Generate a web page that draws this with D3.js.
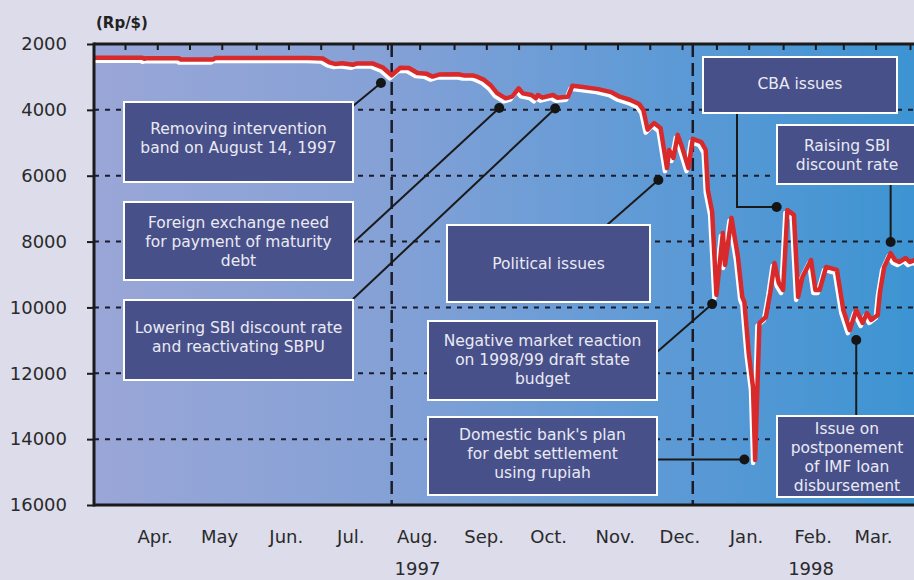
<!DOCTYPE html>
<html>
<head>
<meta charset="utf-8">
<script src="https://cdn.jsdelivr.net/npm/d3@7"></script>
<style>
  html, body { margin: 0; padding: 0; background: #dcdcea; }
  svg { display: block; }
  text { font-family: "DejaVu Sans", "Noto Sans", sans-serif; }
</style>
</head>
<body>
<svg id="chart" width="914" height="580"></svg>
<script>
// Rupiah / US dollar exchange rate, March 1997 – March 1998
const rateDates = [
  "1997-03-17","1997-04-09","1997-04-10","1997-04-11","1997-04-26","1997-04-27",
  "1997-05-12","1997-05-13","1997-06-25","1997-07-02","1997-07-05","1997-07-08",
  "1997-07-11","1997-07-16","1997-07-18","1997-07-25","1997-07-30","1997-08-03",
  "1997-08-07","1997-08-11","1997-08-15","1997-08-19","1997-08-22","1997-08-25",
  "1997-09-03","1997-09-06","1997-09-10","1997-09-12","1997-09-15","1997-09-18",
  "1997-09-21","1997-09-25","1997-09-28","1997-10-01","1997-10-03","1997-10-07",
  "1997-10-09","1997-10-10","1997-10-12","1997-10-17","1997-10-19","1997-10-24",
  "1997-10-26","1997-10-30","1997-11-07","1997-11-13","1997-11-17","1997-11-22",
  "1997-11-26","1997-11-28","1997-11-30","1997-12-03","1997-12-06","1997-12-09",
  "1997-12-10","1997-12-12","1997-12-14","1997-12-16","1997-12-19","1997-12-21",
  "1997-12-25","1997-12-27","1997-12-28","1997-12-30","1998-01-01","1998-01-04",
  "1998-01-05","1998-01-08","1998-01-11","1998-01-13","1998-01-14","1998-01-16",
  "1998-01-18","1998-01-19","1998-01-21","1998-01-24","1998-01-26","1998-01-28",
  "1998-01-30","1998-02-01","1998-02-03","1998-02-06","1998-02-08","1998-02-10",
  "1998-02-14","1998-02-16","1998-02-18","1998-02-21","1998-02-26","1998-03-01",
  "1998-03-04","1998-03-07","1998-03-10","1998-03-12","1998-03-14","1998-03-17",
  "1998-03-18","1998-03-20","1998-03-23","1998-03-25","1998-03-27","1998-03-30",
  "1998-04-01","1998-04-03","1998-04-06"
];
const rateValues = [
  2420, 2420, 2450, 2430, 2430, 2470,
  2470, 2425, 2425, 2440, 2560, 2610,
  2585, 2630, 2590, 2590, 2720, 2950,
  2720, 2730, 2880, 2900, 2990, 2930,
  2920, 2960, 2960, 3000, 3090, 3250,
  3490, 3650, 3600, 3345, 3500, 3550,
  3650, 3550, 3630, 3550, 3630, 3600,
  3270, 3300, 3370, 3460, 3600, 3700,
  3820, 4000, 4600, 4400, 4550, 5770,
  5220, 5460, 4760, 5130, 5770, 4880,
  4980, 5220, 6430, 7100, 9620, 7740,
  8710, 7280, 8470, 9680, 9840, 11380,
  12420, 14630, 10470, 10290, 9560, 8650,
  9260, 9470, 7040, 7190, 9680, 9080,
  8560, 9470, 9470, 8770, 8860, 10080,
  10690, 10080, 10470, 10170, 10380, 10230,
  9560, 8770, 8350, 8560, 8620, 8500,
  8620, 8560, 8600
];

const yTickValues = [2000, 4000, 6000, 8000, 10000, 12000, 14000, 16000];
const monthNames = ["Apr.","May","Jun.","Jul.","Aug.","Sep.","Oct.","Nov.","Dec.","Jan.","Feb.","Mar."];
const monthLabelDates = ["1997-04-15","1997-05-15","1997-06-15","1997-07-15","1997-08-15","1997-09-15",
                         "1997-10-15","1997-11-15","1997-12-15","1998-01-15","1998-02-15","1998-03-15"];
const yearNames = ["1997", "1998"];
const yearLabelDates = ["1997-08-15", "1998-02-14"];
const dividerDates = ["1997-08-03", "1997-12-21"];
const unitLabel = "(Rp/$)";

// Events and the point on the curve each one refers to
const eventTexts = [
  ["Removing intervention", "band on August 14, 1997"],
  ["Foreign exchange need", "for payment of maturity", "debt"],
  ["Lowering SBI discount rate", "and reactivating SBPU"],
  ["Political issues"],
  ["Negative market reaction", "on 1998/99 draft state", "budget"],
  ["Domestic bank's plan", "for debt settlement", "using rupiah"],
  ["CBA issues"],
  ["Raising SBI", "discount rate"],
  ["Issue on", "postponement", "of IMF loan", "disbursement"]
];
const eventDates = ["1997-07-29","1997-09-22","1997-10-18","1997-12-05","1997-12-30",
                    "1998-01-14","1998-01-29","1998-03-23","1998-03-07"];
const eventRates = [3184, 3944, 3959, 6130, 9896, 14618, 6950, 8013, 10989];

// Callout box placement (pixels) and how each leader line leaves its box
const calloutLayout = [
  { x: 124, y: 102, w: 229, h: 80, kind: "line", fx: 353, fy: 106, dy: -4 },
  { x: 124, y: 202, w: 229, h: 78, kind: "line", fx: 353, fy: 243, dy: 0 },
  { x: 124, y: 300, w: 229, h: 80, kind: "line", fx: 353, fy: 299, dy: -3 },
  { x: 447, y: 225, w: 203, h: 77, kind: "line", fx: 607, fy: 225, dy: 0 },
  { x: 428, y: 321, w: 229, h: 79, kind: "h", fx: 657, fy: 352, kind2: "line", dy: -1 },
  { x: 428, y: 417, w: 229, h: 78, kind: "h", dy: -3 },
  { x: 703, y: 57,  w: 194, h: 56, kind: "elbow", fx: 737, dy: -2 },
  { x: 777, y: 125, w: 140, h: 59, kind: "vdown", dy: 0 },
  { x: 777, y: 416, w: 140, h: 81, kind: "vup", dy: 0 }
];
calloutLayout[4].kind = "line";

const parse = d3.timeParse("%Y-%m-%d");
const W = 914, H = 580;
const plot = { left: 94, top: 44, bottom: 505, right: 940 };

const svg = d3.select("#chart");

const x = d3.scaleTime()
  .domain([parse("1997-04-01"), parse("1998-04-01")])
  .range([125, 910]);
const y = d3.scaleLinear()
  .domain([2000, 16000])
  .range([plot.top, plot.bottom]);

// page background
svg.append("rect").attr("width", W).attr("height", H).attr("fill", "#dcdcea");

const defs = svg.append("defs");
const grad = defs.append("linearGradient").attr("id", "plotBg")
  .attr("gradientUnits", "userSpaceOnUse")
  .attr("x1", plot.left).attr("x2", 914).attr("y1", 0).attr("y2", 0);
[["0%", "#9aa6d7"], ["35%", "#85a1d6"], ["65%", "#629bd6"], ["100%", "#3d94d2"]]
  .forEach(([o, c]) => grad.append("stop").attr("offset", o).attr("stop-color", c));

defs.append("clipPath").attr("id", "plotClip")
  .append("rect")
  .attr("x", plot.left).attr("y", plot.top)
  .attr("width", plot.right - plot.left).attr("height", plot.bottom - plot.top);

svg.append("rect")
  .attr("x", plot.left).attr("y", plot.top)
  .attr("width", plot.right - plot.left).attr("height", plot.bottom - plot.top)
  .attr("fill", "url(#plotBg)");

// horizontal dashed gridlines
svg.append("g").selectAll("line")
  .data(yTickValues.filter(v => v > 2000 && v < 16000))
  .join("line")
  .attr("x1", plot.left).attr("x2", plot.right)
  .attr("y1", d => y(d)).attr("y2", d => y(d))
  .attr("stroke", "#1b1b2a").attr("stroke-width", 2)
  .attr("stroke-dasharray", "5,6");

// vertical period dividers
svg.append("g").selectAll("line")
  .data(dividerDates)
  .join("line")
  .attr("x1", d => x(parse(d))).attr("x2", d => x(parse(d)))
  .attr("y1", plot.top).attr("y2", plot.bottom)
  .attr("stroke", "#1b1b2a").attr("stroke-width", 2.5)
  .attr("stroke-dasharray", "13,6");

// exchange-rate line with a white drop shadow
const series = rateDates.map((d, i) => ({ date: parse(d), value: rateValues[i] }));
const line = d3.line().x(d => x(d.date)).y(d => y(d.value));
const lineG = svg.append("g").attr("clip-path", "url(#plotClip)");
lineG.append("path").datum(series)
  .attr("d", line)
  .attr("transform", "translate(-2,3)")
  .attr("fill", "none").attr("stroke", "#ffffff").attr("stroke-width", 4.5)
  .attr("stroke-linejoin", "round");
lineG.append("path").datum(series)
  .attr("d", line)
  .attr("fill", "none").attr("stroke", "#d8292b").attr("stroke-width", 4.5)
  .attr("stroke-linejoin", "round");

// frame: top, left, bottom
const frame = svg.append("g").attr("stroke", "#1a1a1a").attr("stroke-width", 3);
frame.append("line").attr("x1", plot.left).attr("x2", 914).attr("y1", plot.top).attr("y2", plot.top);
frame.append("line").attr("x1", plot.left).attr("x2", 914).attr("y1", plot.bottom).attr("y2", plot.bottom);
frame.append("line").attr("x1", plot.left).attr("x2", plot.left).attr("y1", plot.top - 1.5).attr("y2", plot.bottom + 1.5);

// y axis
const yAxis = d3.axisLeft(y).tickValues(yTickValues).tickSize(7).tickPadding(20).tickFormat(d3.format("d"));
const yG = svg.append("g").attr("transform", `translate(${plot.left},0)`).call(yAxis);
yG.select(".domain").remove();
yG.selectAll(".tick line").attr("stroke", "#1a1a1a").attr("stroke-width", 2);
yG.selectAll(".tick text")
  .attr("font-size", 18).attr("fill", "#2a2a2a")
  .attr("font-family", "'DejaVu Sans', sans-serif");

// half-month tick marks along the top edge
const topTicks = [];
d3.timeMonth.range(parse("1997-04-01"), parse("1998-04-02")).forEach(m => {
  topTicks.push(m);
  topTicks.push(d3.timeDay.offset(m, 15));
});
const xTop = d3.axisBottom(x).tickValues(topTicks.filter(t => x(t) > plot.left + 4 && x(t) < 914))
  .tickSize(6).tickFormat("");
const xTopG = svg.append("g").attr("transform", `translate(0,${plot.top})`).call(xTop);
xTopG.select(".domain").remove();
xTopG.selectAll(".tick line").attr("stroke", "#1a1a1a").attr("stroke-width", 2);

// month and year labels
svg.append("g").selectAll("text")
  .data(monthNames)
  .join("text")
  .attr("x", (d, i) => x(parse(monthLabelDates[i])))
  .attr("y", 543)
  .attr("text-anchor", "middle")
  .attr("font-size", 18).attr("fill", "#2a2a2a")
  .text(d => d);
svg.append("g").selectAll("text")
  .data(yearNames)
  .join("text")
  .attr("x", (d, i) => x(parse(yearLabelDates[i])))
  .attr("y", 575)
  .attr("text-anchor", "middle")
  .attr("font-size", 18).attr("fill", "#2a2a2a")
  .text(d => d);

svg.append("text")
  .attr("x", 96).attr("y", 28)
  .attr("font-size", 15).attr("font-weight", "bold").attr("fill", "#222")
  .text(unitLabel);

// leader lines
const leaders = svg.append("g").attr("stroke", "#1a1a1a").attr("stroke-width", 2).attr("fill", "none");
calloutLayout.forEach((b, i) => {
  const px = x(parse(eventDates[i])), py = y(eventRates[i]);
  let pts;
  if (b.kind === "line") pts = [[b.fx, b.fy], [px, py]];
  else if (b.kind === "h") pts = [[b.x + b.w, py], [px, py]];
  else if (b.kind === "elbow") pts = [[b.fx, b.y + b.h], [b.fx, py], [px, py]];
  else if (b.kind === "vdown") pts = [[px, b.y + b.h], [px, py]];
  else pts = [[px, b.y], [px, py]];
  leaders.append("path").attr("d", d3.line()(pts));
});

// callout boxes
const boxG = svg.append("g");
calloutLayout.forEach((b, i) => {
  const g = boxG.append("g");
  g.append("rect")
    .attr("x", b.x).attr("y", b.y).attr("width", b.w).attr("height", b.h)
    .attr("fill", "#48508a").attr("stroke", "#ffffff").attr("stroke-width", 2);
  const lines = eventTexts[i];
  const lh = 19;
  const cy = b.y + b.h / 2 + b.dy;
  const first = cy - (lines.length - 1) * lh / 2;
  g.selectAll("text").data(lines).join("text")
    .attr("x", b.x + b.w / 2)
    .attr("y", (d, j) => first + j * lh + 5.5)
    .attr("text-anchor", "middle")
    .attr("font-size", 15.5).attr("fill", "#eaeaf3")
    .text(d => d);
});

// event markers
svg.append("g").selectAll("circle")
  .data(eventDates)
  .join("circle")
  .attr("cx", d => x(parse(d)))
  .attr("cy", (d, i) => y(eventRates[i]))
  .attr("r", 5)
  .attr("fill", "#151515");
</script>
</body>
</html>
